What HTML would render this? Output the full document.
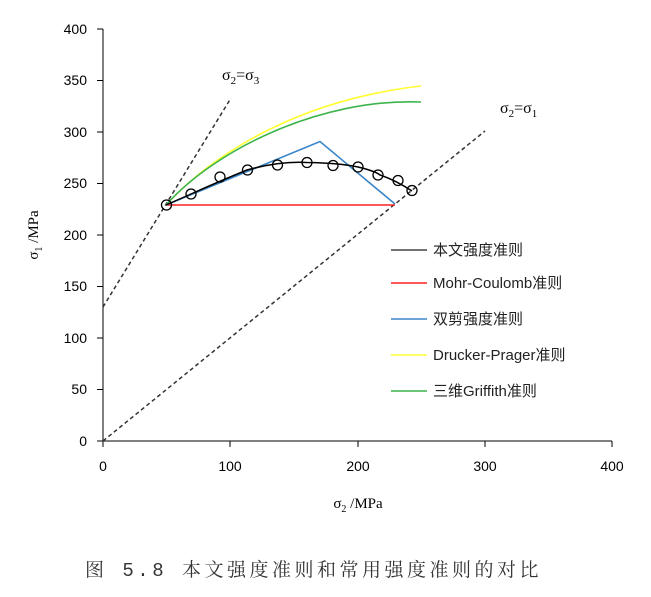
<!DOCTYPE html>
<html><head><meta charset="utf-8"><style>body{margin:0;background:#fff}svg{display:block}</style></head><body>
<svg width="651" height="597" viewBox="0 0 651 597" xmlns="http://www.w3.org/2000/svg" font-family="Liberation Sans, Noto Sans CJK SC, sans-serif">
<rect width="651" height="597" fill="#fff"/>
<g stroke="#000" stroke-width="1" fill="none">
<line x1="103" y1="29" x2="103" y2="441"/>
<line x1="103" y1="441" x2="612" y2="441"/>
<path d="M97 29H103M97 80.5H103M97 132H103M97 183.5H103M97 235H103M97 286.5H103M97 338H103M97 389.5H103M97 441H103"/>
<path d="M103 441V447M230 441V447M358 441V447M485 441V447M612 441V447"/>
</g>
<g font-size="14" fill="#000" text-anchor="end">
<text x="87" y="34">400</text><text x="87" y="85">350</text><text x="87" y="137">300</text><text x="87" y="188">250</text><text x="87" y="240">200</text><text x="87" y="291">150</text><text x="87" y="343">100</text><text x="87" y="394">50</text><text x="87" y="446">0</text>
</g>
<g font-size="14" fill="#000" text-anchor="middle">
<text x="103" y="471">0</text><text x="230" y="471">100</text><text x="358" y="471">200</text><text x="485" y="471">300</text><text x="612" y="471">400</text>
</g>
<text x="0" y="0" transform="translate(38,235) rotate(-90)" font-family="Liberation Serif, serif" font-size="15" text-anchor="middle">σ<tspan font-size="10" dy="4">1</tspan><tspan dy="-4"> /MPa</tspan></text>
<text x="358" y="508" font-family="Liberation Serif, serif" font-size="15" text-anchor="middle">σ<tspan font-size="10" dy="4">2</tspan><tspan dy="-4"> /MPa</tspan></text>
<text x="222" y="80" font-family="Liberation Serif, serif" font-size="16">σ<tspan font-size="11" dy="4">2</tspan><tspan dy="-4">=σ</tspan><tspan font-size="11" dy="4">3</tspan></text>
<text x="500" y="113" font-family="Liberation Serif, serif" font-size="16">σ<tspan font-size="11" dy="4">2</tspan><tspan dy="-4">=σ</tspan><tspan font-size="11" dy="4">1</tspan></text>
<g stroke="#333" stroke-width="1.5" stroke-dasharray="4,3" fill="none">
<line x1="103" y1="307" x2="231" y2="98"/>
<line x1="103" y1="441" x2="485" y2="131"/>
</g>
<path d="M166 205 C215 152 300 100 421 86" stroke="#ffff33" stroke-width="1.6" fill="none"/>
<path d="M166 205 C215 150 320 98 421 102" stroke="#3cb44b" stroke-width="1.6" fill="none"/>
<path d="M166 205 H395" stroke="#ff2020" stroke-width="1.5" fill="none"/>
<path d="M166 205 L320 141.5 L395 204" stroke="#3a86c8" stroke-width="1.6" fill="none"/>
<path d="M166 205 L191 194 Q220 181 247 170 Q280 161 307 162.5 Q340 163 358 167 Q375 171 380 175 Q395 180 412 191" stroke="#000" stroke-width="1.5" fill="none"/>
<g stroke="#000" stroke-width="1.3" fill="none">
<circle cx="166.5" cy="205" r="5"/><circle cx="191" cy="194" r="5"/><circle cx="220" cy="177" r="5"/><circle cx="247.5" cy="170" r="5"/><circle cx="277.5" cy="165" r="5"/><circle cx="307" cy="162.5" r="5"/><circle cx="333" cy="165.5" r="5"/><circle cx="358" cy="167" r="5"/><circle cx="378" cy="175" r="5"/><circle cx="398" cy="180.5" r="5"/><circle cx="412" cy="190.5" r="5"/>
</g>
<g stroke-width="1.5">
<line x1="391" y1="250" x2="427" y2="250" stroke="#444"/>
<line x1="391" y1="283" x2="427" y2="283" stroke="#ff2020"/>
<line x1="391" y1="319" x2="427" y2="319" stroke="#3a86c8"/>
<line x1="391" y1="355" x2="427" y2="355" stroke="#ffff33"/>
<line x1="391" y1="391" x2="427" y2="391" stroke="#3cb44b"/>
</g>
<g font-size="15" fill="#222">
<text x="433" y="255">本文强度准则</text>
<text x="433" y="288">Mohr-Coulomb准则</text>
<text x="433" y="324">双剪强度准则</text>
<text x="433" y="360">Drucker-Prager准则</text>
<text x="433" y="396">三维Griffith准则</text>
</g>
<text x="85" y="576" font-family="Liberation Mono, Noto Serif CJK SC, serif" font-size="19" letter-spacing="3.5" fill="#333">图 5.8 本文强度准则和常用强度准则的对比</text>
</svg>
</body></html>
